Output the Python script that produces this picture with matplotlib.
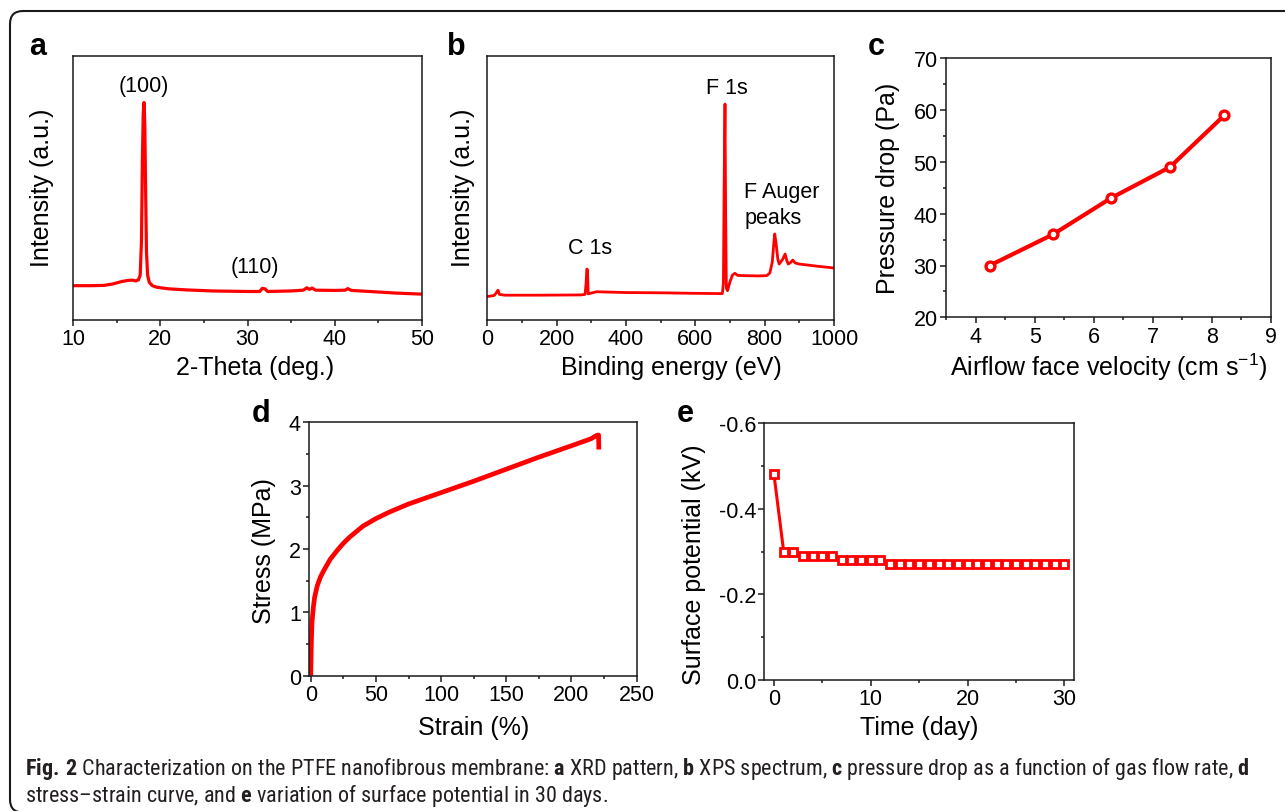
import matplotlib
matplotlib.use('Agg')
import matplotlib.pyplot as plt
from matplotlib import font_manager as fm
from matplotlib.patches import FancyBboxPatch
from matplotlib.ticker import MultipleLocator

# ---------------- data ----------------
# (a) XRD pattern (2-theta in deg, intensity in arbitrary units)
xrd_theta = [10, 12, 13.5, 14.5, 15.5, 16.3, 16.8, 17.2, 17.5, 17.7, 17.85, 17.95, 18.05, 18.14,
             18.23, 18.32, 18.42, 18.55, 18.75, 19.1, 19.6, 21, 23, 26, 30, 31.4, 31.7, 32.0, 32.3,
             35, 36.4, 36.8, 37.1, 37.4, 37.8, 40, 41.2, 41.5, 41.9, 44, 47, 50]
xrd_int = [13.0, 13.0, 13.1, 13.6, 14.5, 15.0, 15.1, 14.8, 15.2, 17, 30, 60, 78, 82.4,
           74, 50, 26, 17, 14.2, 13.0, 12.4, 11.8, 11.4, 11.0, 10.8, 10.8, 12.0, 11.8, 10.8,
           11.0, 11.3, 12.2, 11.6, 12.1, 11.3, 11.2, 11.3, 11.9, 11.2, 10.8, 10.2, 9.8]
xrd_labels = ['(100)', '(110)']

# (b) XPS survey spectrum (binding energy in eV, intensity a.u.)
xps_be = [0, 20, 27, 31, 35, 50, 150, 270, 282, 285, 287, 289, 291, 300, 315, 400, 500, 600,
          678, 681, 683, 685.6, 687.5, 689.5, 693, 700, 707, 714, 722, 740, 780, 806, 815, 822,
          827, 829, 833, 838, 842, 852, 859, 864, 868, 875, 881, 888, 900, 950, 1000]
xps_int = [8.9, 9.3, 10.5, 11.3, 9.7, 9.4, 9.4, 9.5, 9.7, 14, 19.3, 19.0, 9.9, 10.2, 10.7, 10.4,
           10.3, 10.1, 10.0, 14, 50, 81.8, 40, 12, 11.1, 14.5, 17.0, 17.7, 16.9, 16.8, 16.7,
           16.8, 17.8, 22, 30, 32.6, 29, 23, 21.2, 23, 25, 22.5, 21.2, 21.8, 22.7, 21.6, 21.2,
           20.4, 19.7]
xps_labels = ['C 1s', 'F 1s', 'F Auger', 'peaks']

# (c) pressure drop vs face velocity
velocity = [4.24, 5.31, 6.29, 7.29, 8.21]
pressure = [30, 36, 43, 49, 59]

# (d) stress-strain curve
strain = [0, 0.3, 0.6, 1.0, 2.0, 3.0, 5.0, 7.5, 10, 15, 20, 25, 30, 40, 50, 60, 75, 100, 125,
          150, 175, 200, 215, 219, 220.8, 221.0]
stress = [0, 0.35, 0.62, 0.85, 1.08, 1.24, 1.42, 1.56, 1.66, 1.84, 1.97, 2.09, 2.19, 2.36, 2.48,
          2.58, 2.71, 2.89, 3.07, 3.26, 3.45, 3.63, 3.74, 3.79, 3.80, 3.57]

# (e) surface potential over 30 days
days = list(range(31))
potential = [-0.48, -0.30, -0.30, -0.29, -0.29, -0.29, -0.29, -0.28, -0.28, -0.28, -0.28, -0.28,
             -0.27, -0.27, -0.27, -0.27, -0.27, -0.27, -0.27, -0.27, -0.27, -0.27, -0.27, -0.27,
             -0.27, -0.27, -0.27, -0.27, -0.27, -0.27, -0.27]
pot_ticks = [0.0, -0.2, -0.4, -0.6]
pot_ticklabels = ['0.0', '-0.2', '-0.4', '-0.6']

caption1 = (r"$\mathbf{Fig.\,2}$ Characterization on the PTFE nanofibrous membrane: $\mathbf{a}$ XRD pattern, "
            r"$\mathbf{b}$ XPS spectrum, $\mathbf{c}$ pressure drop as a function of gas flow rate, $\mathbf{d}$")
caption2 = r"stress–strain curve, and $\mathbf{e}$ variation of surface potential in 30 days."

# ---------------- fonts ----------------
ttf = fm.fontManager.ttflist
names = {f.name for f in ttf}
MAIN = 'Liberation Sans' if 'Liberation Sans' in names else 'DejaVu Sans'


def weights_of(name):
    ws = set()
    for f in ttf:
        if f.name == name and f.style == 'normal':
            w = f.weight
            if isinstance(w, str):
                w = {'normal': 400, 'regular': 400, 'book': 400, 'light': 300, 'bold': 700,
                     'medium': 500, 'semibold': 600}.get(w.lower(), 400)
            ws.add(int(w))
    return ws


CAP, CAPW = None, 'normal'
for cand in ['Liberation Sans Narrow', 'Open Sans Condensed', 'Roboto Condensed', 'Noto Sans Condensed']:
    ws = weights_of(cand)
    if ws and any(w >= 600 for w in ws):
        if any(380 <= w <= 450 for w in ws):
            CAP, CAPW = cand, 'normal'
            break
        if any(250 <= w < 380 for w in ws):
            CAP, CAPW = cand, 'light'
            break
if CAP is None:
    CAP = 'Open Sans' if 'Open Sans' in names else MAIN
    CAPW = 'normal'

plt.rcParams.update({
    'font.family': [MAIN, 'DejaVu Sans'],
    'mathtext.fontset': 'custom',
    'mathtext.rm': MAIN,
    'mathtext.it': MAIN + ':italic',
    'mathtext.bf': CAP + ':bold',
    'mathtext.default': 'regular',
    'axes.unicode_minus': False,
})

W, H = 1285, 812
fig = plt.figure(figsize=(W / 100, H / 100), dpi=100)
RED = '#ff0000'
INK = '#1a1a1a'
TICK = 15.5
LAB = 18


def add_ax(box):
    l, r, t, b = box
    return fig.add_axes([l / W, 1 - b / H, (r - l) / W, (b - t) / H])


def style(ax):
    for s in ax.spines.values():
        s.set_linewidth(1.1)
        s.set_color(INK)
    ax.tick_params(which='both', direction='out', top=False, right=False,
                   labelsize=TICK, width=1.1, color=INK, pad=2)
    ax.tick_params(which='major', length=4)
    ax.tick_params(which='minor', length=2.2)


def labels(ax, box, xl, xc, yc, yl, yx, yy):
    l, r, t, b = box
    ax.set_xlabel(xl, fontsize=LAB)
    ax.xaxis.set_label_coords((xc - l) / (r - l), (b - yc) / (b - t))
    ax.xaxis.label.set_va('center')
    ax.set_ylabel(yl, fontsize=LAB)
    ax.yaxis.set_label_coords((yx - l) / (r - l), (b - yy) / (b - t))
    ax.yaxis.label.set_va('center')


# ---------------- border ----------------
border = FancyBboxPatch((10 / 100, -1.5 / 100), 13.3, (813.5 - 12) / 100,
                        boxstyle='round,pad=0,rounding_size=0.13',
                        transform=fig.dpi_scale_trans, fill=False,
                        linewidth=1.5, edgecolor=INK, zorder=0)
fig.add_artist(border)

# ---------------- panel a ----------------
box_a = (73, 422, 57, 321)
ax = add_ax(box_a)
style(ax)
ax.plot(xrd_theta, xrd_int, color=RED, lw=2.3, solid_joinstyle='round')
ax.set_xlim(10, 50)
ax.set_ylim(0, 100)
ax.set_yticks([])
ax.xaxis.set_major_locator(MultipleLocator(10))
ax.xaxis.set_minor_locator(MultipleLocator(5))
ax.text(18.1, 89, xrd_labels[0], fontsize=TICK, ha='center', va='center')
ax.text(30.9, 20.1, xrd_labels[1], fontsize=TICK, ha='center', va='center')
labels(ax, box_a, '2-Theta (deg.)', 255, 368, 'Intensity (a.u.)', 42.5, 188.3)

# ---------------- panel b ----------------
box_b = (487.3, 834, 57, 321)
ax = add_ax(box_b)
style(ax)
ax.plot(xps_be, xps_int, color=RED, lw=2.0, solid_joinstyle='round')
ax.set_xlim(0, 1000)
ax.set_ylim(0, 100)
ax.set_yticks([])
ax.xaxis.set_major_locator(MultipleLocator(200))
ax.xaxis.set_minor_locator(MultipleLocator(100))
ax.text(296, 27.5, xps_labels[0], fontsize=TICK, ha='center', va='center')
ax.text(692, 88.1, xps_labels[1], fontsize=TICK, ha='center', va='center')
ax.text(741, 48.6, xps_labels[2], fontsize=TICK, ha='left', va='center')
ax.text(741, 39.0, xps_labels[3], fontsize=TICK, ha='left', va='center')
labels(ax, box_b, 'Binding energy (eV)', 671.7, 368, 'Intensity (a.u.)', 463, 187.5)

# ---------------- panel c ----------------
box_c = (946, 1271, 59.3, 318.3)
ax = add_ax(box_c)
style(ax)
ax.plot(velocity, pressure, color=RED, lw=3.0, marker='o', ms=6.4, mew=2.4,
        mfc='white', mec=RED)
ax.set_xlim(3.5, 9)
ax.set_ylim(20, 70)
ax.xaxis.set_major_locator(MultipleLocator(1))
ax.xaxis.set_minor_locator(MultipleLocator(0.5))
ax.yaxis.set_major_locator(MultipleLocator(10))
ax.yaxis.set_minor_locator(MultipleLocator(5))
labels(ax, box_c, r'Airflow face velocity (cm s$^{-1}$)', 1108.7, 367,
       'Pressure drop (Pa)', 888, 188.8)

# ---------------- panel d ----------------
box_d = (309.3, 637.3, 423.3, 676.7)
ax = add_ax(box_d)
style(ax)
ax.plot(strain, stress, color=RED, lw=3.4, solid_joinstyle='round', solid_capstyle='butt')
ax.set_xlim(-1.1, 250.5)
ax.set_ylim(0, 4)
ax.xaxis.set_major_locator(MultipleLocator(50))
ax.xaxis.set_minor_locator(MultipleLocator(25))
ax.yaxis.set_major_locator(MultipleLocator(1))
ax.yaxis.set_minor_locator(MultipleLocator(0.5))
labels(ax, box_d, 'Strain (%)', 473.3, 728, 'Stress (MPa)', 264, 550.8)

# ---------------- panel e ----------------
box_e = (764.3, 1074, 424, 681)
ax = add_ax(box_e)
style(ax)
ax.plot(days, potential, color=RED, lw=2.2, marker='s', ms=6.0, mew=2.0,
        mfc='white', mec=RED)
ax.set_xlim(-1, 31)
ax.set_ylim(0, -0.6)
ax.set_yticks(pot_ticks)
ax.set_yticklabels(pot_ticklabels)
ax.yaxis.set_minor_locator(MultipleLocator(0.1))
ax.xaxis.set_major_locator(MultipleLocator(10))
ax.xaxis.set_minor_locator(MultipleLocator(5))
labels(ax, box_e, 'Time (day)', 919.3, 728, 'Surface potential (kV)', 694, 565)

# ---------------- panel letters ----------------
for letter, x, y in [('a', 29, 55), ('b', 447, 55), ('c', 868, 55), ('d', 252, 421.7), ('e', 677, 422)]:
    fig.text(x / W, 1 - y / H, letter, fontsize=22, fontweight='bold', ha='left', va='baseline',
             color='black')

# ---------------- caption ----------------
cap_color = '#231f20'
c1 = fig.text(25 / W, 1 - 775 / H, caption1, fontsize=14, family=CAP, fontweight=CAPW,
              color=cap_color, ha='left', va='baseline')
c2 = fig.text(25 / W, 1 - 801.7 / H, caption2, fontsize=14, family=CAP, fontweight=CAPW,
              color=cap_color, ha='left', va='baseline')
fig.canvas.draw()
rend = fig.canvas.get_renderer()
w1 = c1.get_window_extent(rend).width
size = 14 * (1252 - 25) / w1
c1.set_fontsize(size)
c2.set_fontsize(size)

fig.savefig('out.png', dpi=100)
